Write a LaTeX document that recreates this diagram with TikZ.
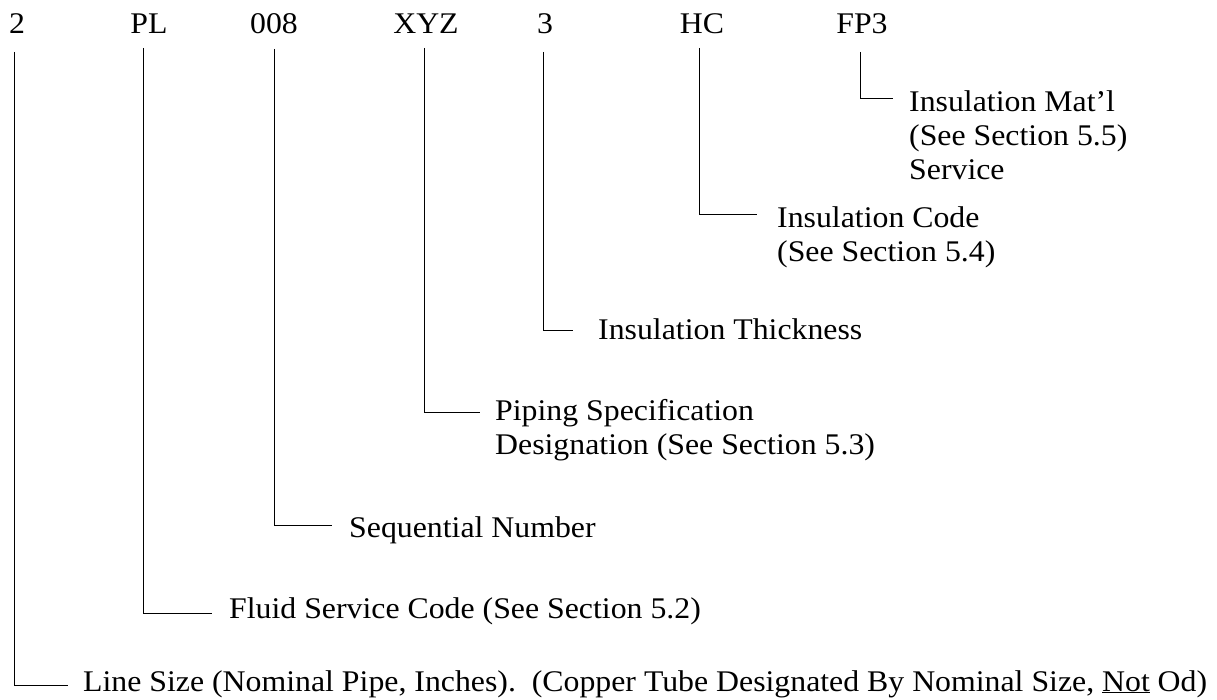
\documentclass[tikz,border=0pt]{standalone}
\usepackage{fontspec}
\setmainfont{Liberation Serif}[FakeStretch=1.06]
\begin{document}
\begin{tikzpicture}[x=1pt,y=-1pt,
  code/.style={anchor=base,inner sep=0pt,font=\fontsize{30}{34}\selectfont},
  lbl/.style={anchor=base west,inner sep=0pt,font=\fontsize{30}{34}\selectfont},
  lead/.style={draw=black,line width=1pt}]
\useasboundingbox (0,0) rectangle (1217,700);
% codes
\node[code] (c2)   at (17,34)  {2};
\node[code] (cPL)  at (149,34) {PL};
\node[code] (c008) at (274,34) {008};
\node[code] (cXYZ) at (426,34) {XYZ};
\node[code] (c3)   at (545,34) {3};
\node[code] (cHC)  at (702,34) {HC};
\node[code] (cFP3) at (862,34) {FP3};
% labels
\node[lbl] (lFP3) at (909,112) {\begin{tabular}[t]{@{}l@{}}Insulation Mat’l\\(See Section 5.5)\\Service\end{tabular}};
\node[lbl] (lHC)  at (777,228) {\begin{tabular}[t]{@{}l@{}}Insulation Code\\(See Section 5.4)\end{tabular}};
\node[lbl] (l3)   at (598,339) {Insulation Thickness};
\node[lbl] (lXYZ) at (495,420) {\begin{tabular}[t]{@{}l@{}}Piping Specification\\Designation (See Section 5.3)\end{tabular}};
\node[lbl] (l008) at (349,537) {Sequential Number};
\node[lbl] (lPL)  at (229,618) {Fluid Service Code (See Section 5.2)};
\node[lbl] (l2)   at (83,691)  {Line Size (Nominal Pipe, Inches).\ \ (Copper Tube Designated By Nominal Size, \underline{Not} Od)};
% leaders
\draw[lead] ([shift={(-2pt,-18pt)}]cFP3.base) |- ([shift={(-16pt,13pt)}]lFP3.base west);
\draw[lead] ([shift={(-3pt,-14pt)}]cHC.base)  |- ([shift={(-20pt,13pt)}]lHC.base west);
\draw[lead] ([shift={(-2pt,-18pt)}]c3.base)   |- ([shift={(-25pt,9pt)}]l3.base west);
\draw[lead] ([shift={(-2pt,-14pt)}]cXYZ.base) |- ([shift={(-15pt,8pt)}]lXYZ.base west);
\draw[lead] ([shift={(0pt,-15pt)}]c008.base)  |- ([shift={(-17pt,12pt)}]l008.base west);
\draw[lead] ([shift={(-6pt,-14pt)}]cPL.base)  |- ([shift={(-17pt,5pt)}]lPL.base west);
\draw[lead] ([shift={(-3pt,-18pt)}]c2.base)   |- ([shift={(-15pt,6pt)}]l2.base west);
\end{tikzpicture}
\end{document}
